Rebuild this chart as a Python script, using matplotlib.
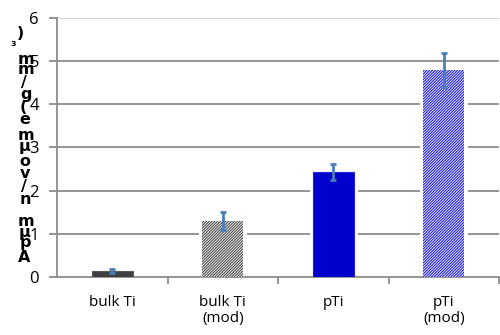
import matplotlib.pyplot as plt
import numpy as np

categories = ["bulk Ti", "bulk Ti\n(mod)", "pTi", "pTi\n(mod)"]
values = [0.13, 1.30, 2.43, 4.79]
errors = [0.04, 0.21, 0.19, 0.39]
colors = ["#404040", "white", "#0000CC", "white"]
hatches = [None, "////////////", None, "////////////"]
hatch_cols = ["#5a5a5a", "#4a4a4a", "#2020dd", "#1a1ae0"]

# garbled stacked y label, as it appears (char, x px, y px)
ylab_chars = [(")", 20, 33), ("\u2083", 13, 43), ("m", 26, 59), ("m", 26, 70),
              ("/", 24, 83), ("g", 26, 94), ("(", 23, 107), ("e", 25, 120),
              ("m", 26, 136), ("\u03bc", 25, 147), ("o", 25, 162), ("v", 25, 173),
              ("/", 24, 187), ("n", 25, 200), ("m", 26, 221), ("\u03bc", 25, 232),
              ("p", 25, 243), ("A", 24, 257)]

plt.rcParams['font.family'] = ['Open Sans', 'DejaVu Sans']
plt.rcParams['hatch.linewidth'] = 0.8
fig = plt.figure(figsize=(5, 3.35), dpi=100)
ax = fig.add_axes([0.114, 0.174, 0.884, 0.772])

x = np.arange(len(categories))
w = 0.367
gray = "#8c8c8c"

# white halo behind bars so the gridlines stop short of them
ax.bar(x, values, width=w, color="white", edgecolor="white", linewidth=5, zorder=2)
for i in range(len(x)):
    ax.bar(x[i], values[i], width=w, color=colors[i], hatch=hatches[i],
           edgecolor=hatch_cols[i], linewidth=0.8 if hatches[i] is None else 0, zorder=3)
ax.errorbar(x, values, yerr=errors, fmt="none", ecolor="#4A7EBB", elinewidth=2,
            capsize=2, capthick=2, zorder=4)

ax.set_xlim(-0.5, 3.5)
ax.set_ylim(0, 6)
ax.set_yticks(range(7))
for yv in range(1, 7):
    ax.axhline(yv, color=gray if yv < 6 else "#d0d0d0", linewidth=1.3, zorder=1)

ax.set_xticks(x)
ax.set_xticklabels(categories, fontsize=11, linespacing=1.15)
ax.set_xticks([0.5, 1.5, 2.5, 3.5], minor=True)
ax.tick_params(axis="x", which="major", length=0, pad=13)
ax.tick_params(axis="x", which="minor", length=5, width=1.3, color=gray)
ax.tick_params(axis="y", length=6, width=1.3, color=gray, labelsize=12, pad=7)

for s in ["top", "right"]:
    ax.spines[s].set_visible(False)
for s in ["left", "bottom"]:
    ax.spines[s].set_color(gray)
    ax.spines[s].set_linewidth(1.3)

for ch, px, py in ylab_chars:
    size = 9 if ch == "\u2083" else 11.5
    fig.text(px / 500, 1 - py / 335, ch, fontsize=size, fontweight="bold",
             ha="center", va="center", family=["DejaVu Sans"])

fig.savefig("out.png", dpi=100)
